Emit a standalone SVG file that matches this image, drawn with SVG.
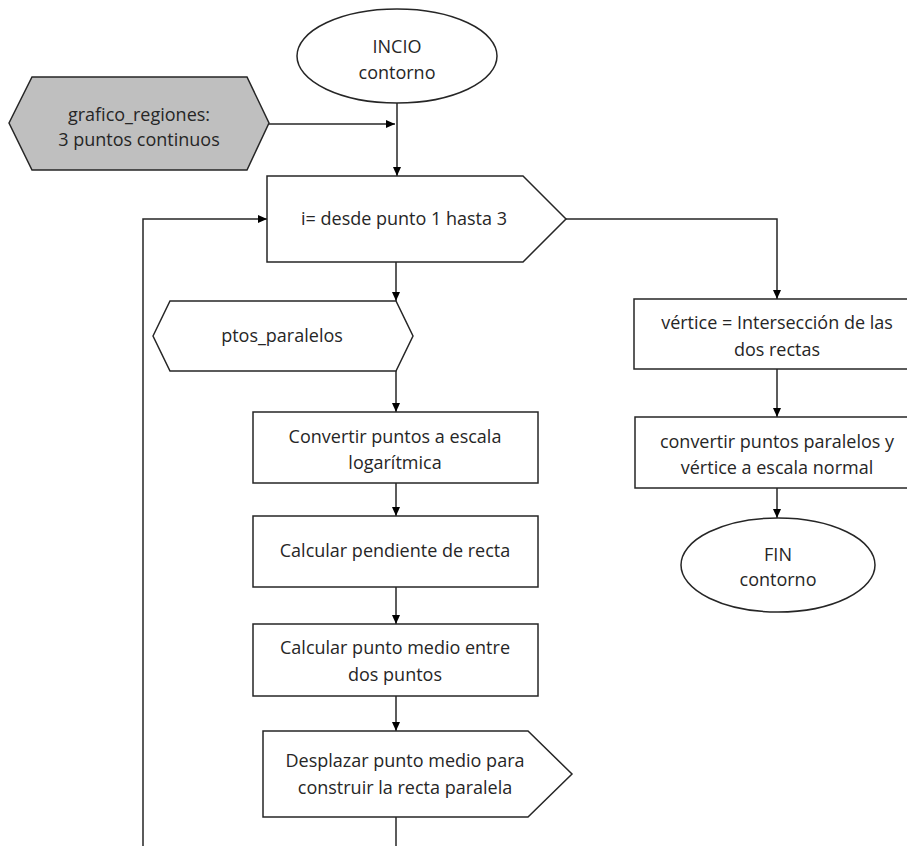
<svg xmlns="http://www.w3.org/2000/svg" width="907" height="846" viewBox="0 0 907 846">
<style>
.s{fill:#fff;stroke:#262626;stroke-width:1.5}
.g{fill:#bfbfbf;stroke:#262626;stroke-width:1.5}
.c{fill:none;stroke:#262626;stroke-width:1.5}
text{font-family:"Open Sans","Liberation Sans",sans-serif;font-size:18px;fill:#262626;text-anchor:middle}
</style>
<defs>
<marker id="a" markerWidth="10" markerHeight="10" refX="9" refY="5" orient="auto" markerUnits="userSpaceOnUse">
<path d="M0,1 L9,5 L0,9 Z" fill="#000"/>
</marker>
</defs>
<rect width="907" height="846" fill="#fff"/>
<g id="connectors">
<path class="c" d="M397,103 V176" marker-end="url(#a)"/>
<path class="c" d="M269,124 H395" marker-end="url(#a)"/>
<path class="c" d="M396,262 V301" marker-end="url(#a)"/>
<path class="c" d="M396,371 V412" marker-end="url(#a)"/>
<path class="c" d="M396,483 V516" marker-end="url(#a)"/>
<path class="c" d="M396,587 V624" marker-end="url(#a)"/>
<path class="c" d="M396,696 V731" marker-end="url(#a)"/>
<path class="c" d="M396,817 V846"/>
<path class="c" d="M143,846 V219 H267" marker-end="url(#a)"/>
<path class="c" d="M566,219 H777 V299" marker-end="url(#a)"/>
<path class="c" d="M777,369 V417" marker-end="url(#a)"/>
<path class="c" d="M777,488 V518" marker-end="url(#a)"/>
</g>
<g id="inicio">
<ellipse class="s" cx="397" cy="56" rx="100" ry="47"/>
<text x="397" y="53">INCIO</text>
<text x="397" y="79">contorno</text>
</g>
<g id="grafico">
<polygon class="g" points="9,123 32,77 247,77 269,123 247,170 32,170"/>
<text x="139" y="121">grafico_regiones:</text>
<text x="139" y="146">3 puntos continuos</text>
</g>
<g id="loop">
<polygon class="s" points="267,176 523,176 566,219 523,262 267,262"/>
<text x="404" y="225">i= desde punto 1 hasta 3</text>
</g>
<g id="ptos">
<polygon class="s" points="153,336 170,301 396,301 413,336 396,371 170,371"/>
<text x="282" y="342">ptos_paralelos</text>
</g>
<g id="convertir-log">
<rect class="s" x="253" y="412" width="285" height="71"/>
<text x="395" y="443">Convertir puntos a escala</text>
<text x="395" y="469">logarítmica</text>
</g>
<g id="pendiente">
<rect class="s" x="253" y="516" width="285" height="71"/>
<text x="395" y="557">Calcular pendiente de recta</text>
</g>
<g id="medio">
<rect class="s" x="253" y="624" width="285" height="72"/>
<text x="395" y="654">Calcular punto medio entre</text>
<text x="395" y="681">dos puntos</text>
</g>
<g id="desplazar">
<polygon class="s" points="263,731 528,731 572,774 528,817 263,817"/>
<text x="405" y="767">Desplazar punto medio para</text>
<text x="405" y="794">construir la recta paralela</text>
</g>
<g id="vertice">
<rect class="s" x="634" y="299" width="286" height="70"/>
<text x="777" y="329">vértice = Intersección de las</text>
<text x="777" y="356">dos rectas</text>
</g>
<g id="convertir-normal">
<rect class="s" x="635" y="417" width="285" height="71"/>
<text x="777" y="448">convertir puntos paralelos y</text>
<text x="777" y="474">vértice a escala normal</text>
</g>
<g id="fin">
<ellipse class="s" cx="778" cy="565" rx="97" ry="47"/>
<text x="778" y="561">FIN</text>
<text x="778" y="586">contorno</text>
</g>
</svg>
